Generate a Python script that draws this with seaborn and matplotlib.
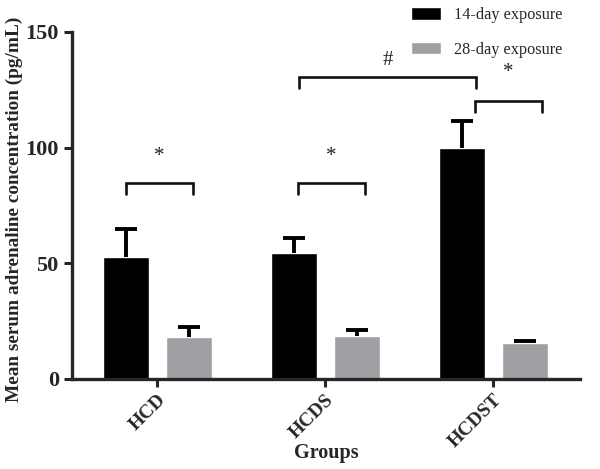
import matplotlib
matplotlib.use("Agg")
import matplotlib.pyplot as plt
import seaborn as sns
import pandas as pd
import numpy as np

groups = ["HCD", "HCDS", "HCDST"]
series = ["14-day exposure", "28-day exposure"]
mean_14 = [52.9, 54.6, 99.7]
err_14 = [11.8, 6.5, 11.8]
mean_28 = [18.3, 18.6, 15.7]
err_28 = [4.0, 2.6, 0.8]
yticks = [0, 50, 100, 150]

df = pd.DataFrame({
    "Groups": groups * 2,
    "exposure": [series[0]] * 3 + [series[1]] * 3,
    "value": mean_14 + mean_28,
})

sns.set_style("ticks")
plt.rcParams["font.family"] = ["Liberation Serif", "DejaVu Serif"]

fig = plt.figure(figsize=(6, 4.69), dpi=100)
ax = fig.add_axes([0.12, 0.192, 0.847, 0.74])

sns.barplot(data=df, x="Groups", y="value", hue="exposure",
            palette=["#000000", "#a0a0a4"], width=0.75, gap=0.27,
            errorbar=None, ax=ax, saturation=1)

errs = [err_14, err_28]
for cont, e in zip(ax.containers, errs):
    xs = [p.get_x() + p.get_width() / 2 for p in cont]
    hs = [p.get_height() for p in cont]
    _, caps, _ = ax.errorbar(xs, hs, yerr=[np.zeros(len(e)), e], fmt="none",
                             ecolor="black", elinewidth=2.8, capsize=7.8,
                             capthick=2.8, zorder=1)
    caps[0].set_visible(False)

ax.set_ylim(0, 150)
ax.set_xlim(-0.506, 2.518)
ax.set_yticks(yticks)
ax.set_yticklabels([str(t) for t in yticks], fontsize=16, fontweight="bold")
ax.set_xticks(range(3))
ax.set_xticklabels(groups, rotation=45, ha="right", rotation_mode="anchor",
                   fontsize=14, fontweight="bold")
ax.set_xlabel("Groups", fontsize=14.5, fontweight="bold")
ax.xaxis.set_label_coords(0.5, -0.213)
ax.xaxis.label.set_va("center")
ax.set_ylabel("Mean serum adrenaline concentration (pg/mL)", fontsize=13.9,
              fontweight="bold")
ax.yaxis.set_label_coords(-0.113, 0.49)
ax.yaxis.label.set_va("center")
for s in ["top", "right"]:
    ax.spines[s].set_visible(False)
for s in ["left", "bottom"]:
    ax.spines[s].set_linewidth(2.4)
ax.tick_params(axis="both", width=2.2, length=6, direction="out")
ax.tick_params(axis="x", pad=3)

# significance brackets
def bracket(x1, x2, y, drop, label, ly):
    ax.plot([x1, x1, x2, x2], [y - drop, y, y, y - drop], color="#111111",
            lw=1.9, clip_on=False, solid_joinstyle="miter")
    ax.text((x1 + x2) / 2, ly, label, ha="center", va="center",
            fontsize=15, color="#222222", clip_on=False)

bracket(-0.185, 0.212, 84.9, 4.9, "*", 96.0)
bracket(0.84, 1.236, 84.6, 4.7, "*", 96.0)
bracket(0.845, 1.897, 130.4, 4.7, "#", 137.5)
bracket(1.893, 2.29, 120.2, 4.9, "*", 132.5)

h, l = ax.get_legend_handles_labels()
ax.legend_.remove()
fig.legend(h, l, loc="upper left", bbox_to_anchor=(0.66, 1.016),
           frameon=False, fontsize=11.7, handlelength=1.85, handleheight=0.8,
           labelspacing=1.15, handletextpad=0.85)

fig.savefig("out.png", dpi=100)
